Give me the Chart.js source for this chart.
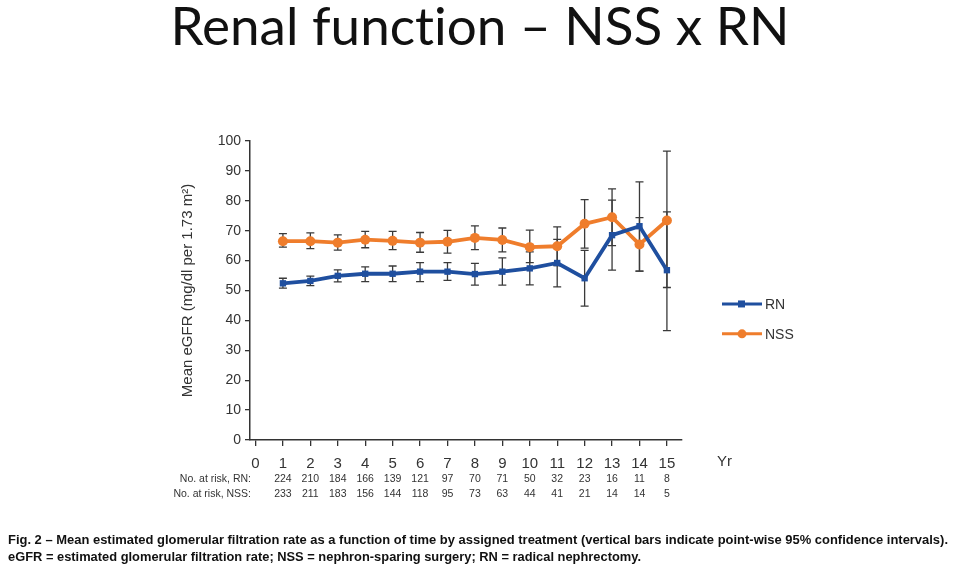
<!DOCTYPE html>
<html>
<head>
<meta charset="utf-8">
<script src="https://cdn.jsdelivr.net/npm/chart.js@4"></script>
<style>
  html, body { margin: 0; padding: 0; background: #fff; }
  #wrap { position: relative; width: 960px; height: 577px; overflow: hidden; background: #fff; }
  #title { position: absolute; left: 0; top: -2px; width: 960px; text-align: center;
           font-family: Lato, "Open Sans", sans-serif; font-size: 53px; line-height: 53px; color: #111;
           font-variant-ligatures: none; }
  #chart { position: absolute; left: 0; top: 0; }
  .cap { position: absolute; left: 8px; font-family: "Liberation Sans Narrow", "Liberation Sans", sans-serif;
         font-weight: bold; font-size: 12.5px; line-height: 15px; white-space: nowrap; transform-origin: 0 0; color: #111; }
</style>
</head>
<body>
<div id="wrap">
  <div id="title">Renal function – NSS x RN</div>
  <canvas id="chart" width="960" height="577"></canvas>
  <div class="cap" id="cap1" style="top:533px">Fig. 2 – Mean estimated glomerular filtration rate as a function of time by assigned treatment (vertical bars indicate point-wise 95% confidence intervals).</div>
  <div class="cap" id="cap2" style="top:550px">eGFR = estimated glomerular filtration rate; NSS = nephron-sparing surgery; RN = radical nephrectomy.</div>
</div>
<script>
// data
const years = [1, 2, 3, 4, 5, 6, 7, 8, 9, 10, 11, 12, 13, 14, 15];
const xTicks = [0, 1, 2, 3, 4, 5, 6, 7, 8, 9, 10, 11, 12, 13, 14, 15];

const rnMean = [52.4, 53.2, 54.9, 55.6, 55.6, 56.3, 56.3, 55.5, 56.3, 57.4, 59.2, 54.1, 68.5, 71.5, 56.8];
const rnLow  = [50.8, 51.6, 52.9, 53.0, 53.0, 53.0, 53.4, 51.8, 51.8, 51.9, 51.2, 44.8, 56.8, 56.5, 36.6];
const rnHigh = [54.1, 54.8, 56.9, 57.9, 58.2, 59.3, 59.3, 59.1, 60.9, 62.9, 67.1, 63.4, 80.2, 86.3, 96.6];

const nssMean = [66.5, 66.5, 66.0, 67.0, 66.6, 66.0, 66.3, 67.6, 66.9, 64.5, 64.8, 72.3, 74.5, 65.4, 73.4];
const nssLow  = [64.5, 64.0, 63.5, 64.3, 63.7, 62.8, 62.5, 63.7, 62.9, 59.3, 58.3, 64.2, 65.0, 56.5, 51.0];
const nssHigh = [69.0, 69.3, 68.6, 69.8, 69.8, 69.4, 70.1, 71.6, 70.9, 70.2, 71.3, 80.4, 84.0, 74.4, 76.3];

const rnRisk  = [224, 210, 184, 166, 139, 121, 97, 70, 71, 50, 32, 23, 16, 11, 8];
const nssRisk = [233, 211, 183, 156, 144, 118, 95, 73, 63, 44, 41, 21, 14, 14, 5];

const BLUE = '#1f4f9f';
const ORANGE = '#ef7d2c';
const INK = '#333';

const pts = arr => years.map((yr, i) => ({ x: yr, y: arr[i] }));

// vertical confidence bars
const errorBars = {
  id: 'errorBars',
  beforeDatasetsDraw(chart) {
    const { ctx, scales: { x, y } } = chart;
    ctx.save();
    ctx.strokeStyle = '#3a3a3a';
    ctx.lineWidth = 1.3;
    [[rnLow, rnHigh], [nssLow, nssHigh]].forEach(([lo, hi]) => {
      years.forEach((yr, i) => {
        const px = x.getPixelForValue(yr);
        const top = y.getPixelForValue(hi[i]);
        const bot = y.getPixelForValue(lo[i]);
        ctx.beginPath();
        ctx.moveTo(px, top); ctx.lineTo(px, bot);
        ctx.moveTo(px - 4, top); ctx.lineTo(px + 4, top);
        ctx.moveTo(px - 4, bot); ctx.lineTo(px + 4, bot);
        ctx.stroke();
      });
    });
    ctx.restore();
  }
};

// number-at-risk rows, "Yr" label and legend
const extras = {
  id: 'extras',
  afterDraw(chart) {
    const { ctx, scales: { x, y }, chartArea } = chart;
    ctx.save();
    ctx.fillStyle = INK;
    ctx.font = '10.5px "Liberation Sans", Arial, sans-serif';
    ctx.textBaseline = 'middle';
    const rows = [['No. at risk, RN:', rnRisk, 479], ['No. at risk, NSS:', nssRisk, 494]];
    rows.forEach(([label, vals, py]) => {
      ctx.textAlign = 'right';
      ctx.fillText(label, chartArea.left + 1, py);
      ctx.textAlign = 'center';
      vals.forEach((v, i) => ctx.fillText(String(v), x.getPixelForValue(years[i]), py));
    });

    ctx.font = '15px "Liberation Sans", Arial, sans-serif';
    ctx.textAlign = 'left';
    ctx.fillText('Yr', chartArea.right + 35, 462);

    // legend
    const lx = chartArea.right + 40;
    const items = [['RN', BLUE, 'rect', y.getPixelForValue(45.5)], ['NSS', ORANGE, 'circle', y.getPixelForValue(35.5)]];
    items.forEach(([name, color, shape, py]) => {
      ctx.strokeStyle = color;
      ctx.fillStyle = color;
      ctx.lineWidth = 3;
      ctx.beginPath();
      ctx.moveTo(lx, py); ctx.lineTo(lx + 40, py);
      ctx.stroke();
      if (shape === 'rect') {
        ctx.fillRect(lx + 16, py - 3.5, 7, 7);
      } else {
        ctx.beginPath();
        ctx.arc(lx + 20, py, 4.5, 0, Math.PI * 2);
        ctx.fill();
      }
      ctx.fillStyle = INK;
      ctx.font = '14px "Liberation Sans", Arial, sans-serif';
      ctx.textAlign = 'left';
      ctx.fillText(name, lx + 43, py + 1);
    });
    ctx.restore();
  }
};

new Chart(document.getElementById('chart'), {
  type: 'line',
  data: {
    datasets: [
      {
        label: 'RN',
        data: pts(rnMean),
        borderColor: BLUE,
        backgroundColor: BLUE,
        borderWidth: 3.8,
        pointStyle: 'rect',
        pointRadius: 4.5,
        pointBorderWidth: 0,
        tension: 0
      },
      {
        label: 'NSS',
        data: pts(nssMean),
        borderColor: ORANGE,
        backgroundColor: ORANGE,
        borderWidth: 3.8,
        pointStyle: 'circle',
        pointRadius: 5,
        pointBorderWidth: 0,
        tension: 0
      }
    ]
  },
  options: {
    responsive: false,
    animation: false,
    layout: { padding: { left: 150, right: 278, top: 141, bottom: 97 } },
    plugins: {
      legend: { display: false },
      tooltip: { enabled: false }
    },
    scales: {
      x: {
        type: 'linear',
        min: -0.2,
        max: 15.55,
        afterBuildTicks: s => { s.ticks = xTicks.map(v => ({ value: v })); },
        afterFit: s => { s.height = 40; },
        ticks: { color: INK, font: { size: 15, family: '"Liberation Sans", Arial' }, padding: 9, maxRotation: 0, autoSkip: false },
        grid: { drawOnChartArea: false, color: INK, lineWidth: 1.3, tickLength: 6 },
        border: { color: INK, width: 1.5 }
      },
      y: {
        min: 0,
        max: 100,
        afterFit: s => { s.width = 100; },
        ticks: { stepSize: 10, color: INK, font: { size: 14, family: '"Liberation Sans", Arial' }, padding: 4 },
        grid: { drawOnChartArea: false, color: INK, lineWidth: 1.3, tickLength: 5 },
        border: { color: INK, width: 1.5 },
        title: {
          display: true,
          text: 'Mean eGFR (mg/dl per 1.73 m²)',
          color: INK,
          font: { size: 15, family: '"Liberation Sans", Arial' },
          padding: { top: 29, bottom: 0 }
        }
      }
    }
  },
  plugins: [errorBars, extras]
});

// fit caption lines to the width of the original figure caption
[['cap1', 940], ['cap2', 633]].forEach(([id, w]) => {
  const el = document.getElementById(id);
  el.style.transform = 'scaleX(' + (w / el.getBoundingClientRect().width) + ')';
});
</script>
</body>
</html>
